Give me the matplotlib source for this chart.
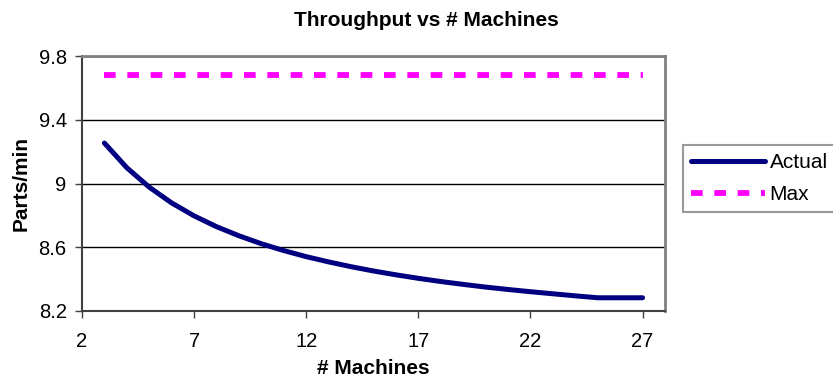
import numpy as np
import matplotlib
matplotlib.use("Agg")
import matplotlib.pyplot as plt

# ------------------ DATA ------------------
machines = list(range(3, 28))
actual = [9.254, 9.099, 8.977, 8.878, 8.797, 8.729, 8.672, 8.622, 8.579, 8.541,
          8.508, 8.478, 8.451, 8.427, 8.405, 8.385, 8.367, 8.350, 8.335, 8.321,
          8.308, 8.295, 8.283, 8.283, 8.283]
max_rate = [9.68] * len(machines)

x_ticks = [2, 7, 12, 17, 22, 27]
y_ticks = [8.2, 8.6, 9.0, 9.4, 9.8]
y_tick_labels = ["8.2", "8.6", "9", "9.4", "9.8"]

# ------------------ PLOT ------------------
plt.rcParams['font.family'] = ['Liberation Sans', 'DejaVu Sans']

fig = plt.figure(figsize=(8.33, 3.8), dpi=100)
ax = fig.add_axes([0.0984, 0.1816, 0.6999, 0.671])

ax.plot(machines, actual, color='#000080', lw=3.6, solid_capstyle='round',
        solid_joinstyle='round', label='Actual', zorder=3)
ax.plot(machines, max_rate, color='#FF00FF', lw=4.2, dashes=(2, 2),
        dash_capstyle='butt', label='Max', zorder=3)

ax.set_xlim(2, 28)
ax.set_ylim(8.2, 9.8)
ax.set_xticks(x_ticks)
ax.set_yticks(y_ticks)
ax.set_yticklabels(y_tick_labels)
ax.tick_params(labelsize=14.5, length=5, width=1, color='#404040', pad=6)
ax.tick_params(axis='x', pad=10)

ax.grid(True, axis='y', color='black', lw=1)
for side in ['top', 'right']:
    ax.spines[side].set_color('#808080')
    ax.spines[side].set_linewidth(2)
for side in ['left', 'bottom']:
    ax.spines[side].set_color('#404040')
    ax.spines[side].set_linewidth(1.5)

ax.set_xlabel("# Machines", fontsize=15, fontweight='bold', labelpad=6)
ax.set_ylabel("Parts/min", fontsize=15, fontweight='bold', labelpad=6)
fig.text(0.512, 0.945, "Throughput vs # Machines", fontsize=15,
         fontweight='bold', ha='center', va='center')

leg = fig.legend(loc='upper left', bbox_to_anchor=(0.82, 0.618), fontsize=15,
                 frameon=True, fancybox=False, borderpad=0.4,
                 handlelength=3.55, handletextpad=0.2, labelspacing=0.6,
                 borderaxespad=0)
leg.get_frame().set_edgecolor('#808080')
leg.get_frame().set_linewidth(1.5)

plt.savefig("out.png", dpi=100)
